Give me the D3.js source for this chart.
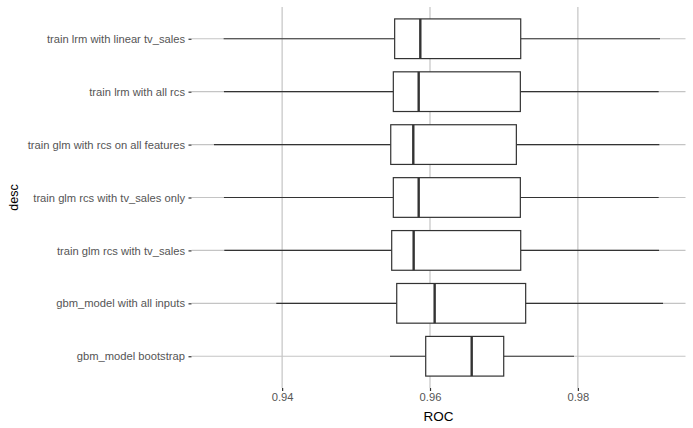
<!DOCTYPE html>
<html><head><meta charset="utf-8">
<script src="https://cdn.jsdelivr.net/npm/d3@7"></script>
<style>body{margin:0;background:#fff}</style>
</head><body>
<svg id="chart" width="693" height="428"></svg>
<script>
const categories = ["train lrm with linear tv_sales","train lrm with all rcs","train glm with rcs on all features","train glm rcs with tv_sales only","train glm rcs with tv_sales","gbm_model with all inputs","gbm_model bootstrap"];
const whiskerLow  = [0.93209,0.93213,0.93078,0.93213,0.93218,0.93921,0.95459];
const q1          = [0.95522,0.95504,0.95469,0.95504,0.95482,0.95550,0.95942];
const median      = [0.95869,0.95847,0.95774,0.95847,0.95779,0.96063,0.96564];
const q3          = [0.97227,0.97222,0.97168,0.97222,0.97227,0.97294,0.96997];
const whiskerHigh = [0.99111,0.99093,0.99102,0.99093,0.99098,0.99152,0.97948];
const xTicks = [0.94,0.96,0.98];
const xTitle = "ROC", yTitle = "desc";

(function(){
const data = categories.map((c,i)=>({c, lo:whiskerLow[i], q1:q1[i], med:median[i], q3:q3[i], hi:whiskerHigh[i]}));
const svg = d3.select("#chart");
const pL = 191.5, pR = 685.5, pT = 7, pB = 388;
const mn = d3.min(whiskerLow), mx = d3.max(whiskerHigh), pad = (mx-mn)*0.05;
const x = d3.scaleLinear().domain([mn-pad, mx+pad]).range([pL,pR]);
const y = d3.scalePoint().domain(categories).range([pT,pB]).padding(0.6);
const band = y.step()*0.75;
const font = "'Liberation Sans', Arial, sans-serif";
const gridCol = "#c4c4c4";

svg.append("g").selectAll("line").data(xTicks).join("line")
  .attr("x1",d=>x(d)).attr("x2",d=>x(d)).attr("y1",pT).attr("y2",pB)
  .attr("stroke",gridCol).attr("stroke-width",1.2);
svg.append("g").selectAll("line").data(categories).join("line")
  .attr("x1",pL).attr("x2",pR).attr("y1",d=>y(d)).attr("y2",d=>y(d))
  .attr("stroke",gridCol).attr("stroke-width",1.2);

const xAxis = svg.append("g").attr("transform",`translate(0,${pB})`)
  .call(d3.axisBottom(x).tickValues(xTicks).tickFormat(d3.format(".2f")).tickSize(3).tickPadding(2.5));
const yAxis = svg.append("g").attr("transform",`translate(${pL},0)`)
  .call(d3.axisLeft(y).tickSize(3).tickPadding(3.5));
[xAxis,yAxis].forEach(a=>{
  a.select(".domain").remove();
  a.selectAll(".tick line").attr("stroke","#333").attr("stroke-width",1.2);
  a.selectAll(".tick text").attr("fill","#555").style("font-family",font).style("font-size","11.2px");
});

const g = svg.append("g").selectAll("g").data(data).join("g");
g.append("line").attr("x1",d=>x(d.lo)).attr("x2",d=>x(d.q1)).attr("y1",d=>y(d.c)).attr("y2",d=>y(d.c)).attr("stroke","#333").attr("stroke-width",1.2);
g.append("line").attr("x1",d=>x(d.q3)).attr("x2",d=>x(d.hi)).attr("y1",d=>y(d.c)).attr("y2",d=>y(d.c)).attr("stroke","#333").attr("stroke-width",1.2);
g.append("rect").attr("x",d=>x(d.q1)).attr("width",d=>x(d.q3)-x(d.q1)).attr("y",d=>y(d.c)-band/2).attr("height",band)
  .attr("fill","#fff").attr("stroke","#333").attr("stroke-width",1.2);
g.append("line").attr("x1",d=>x(d.med)).attr("x2",d=>x(d.med)).attr("y1",d=>y(d.c)-band/2).attr("y2",d=>y(d.c)+band/2).attr("stroke","#333").attr("stroke-width",2.4);

svg.append("text").attr("x",(pL+pR)/2).attr("y",420.5).attr("text-anchor","middle")
  .style("font-family",font).style("font-size","13.5px").attr("fill","#000").text(xTitle);
svg.append("text").attr("transform",`translate(17.5,${(pT+pB)/2}) rotate(-90)`).attr("text-anchor","middle")
  .style("font-family",font).style("font-size","12.5px").attr("fill","#000").text(yTitle);
})();
</script>
</body></html>
